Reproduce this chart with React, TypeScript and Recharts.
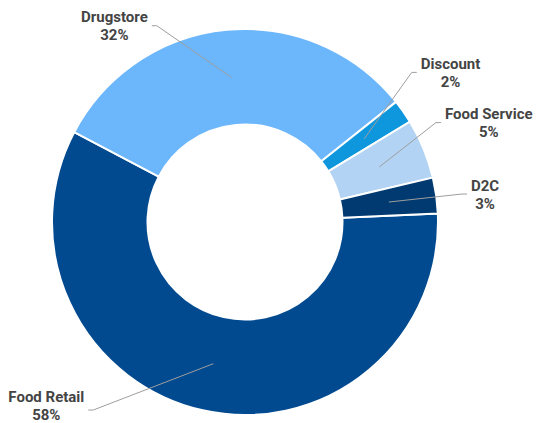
import React from "react";
import { PieChart, Pie, Cell } from "recharts";

const categories = ["Food Retail", "Drugstore", "Discount", "Food Service", "D2C"];
const shares = [58.4, 31.6, 2, 5, 3];
const colors = ["#014a90", "#6cb6fb", "#0e97dd", "#b2d3f4", "#013a70"];

// label elbow placement (angle in degrees, radius in px from pie centre), side, and vertical nudge
const labelLayout: Record<string, { angle: number; radius: number; side: "left" | "right"; dy: number }> = {
  "Food Retail": { angle: 231.1, radius: 241.6, side: "left", dy: -5 },
  Drugstore: { angle: 114.2, radius: 215.2, side: "left", dy: 0 },
  Discount: { angle: 41.9, radius: 224, side: "right", dy: 0 },
  "Food Service": { angle: 27.5, radius: 215.3, side: "right", dy: 0 },
  D2C: { angle: 7.35, radius: 218.8, side: "right", dy: 0 },
};

const data = categories.map((name, i) => ({ name, value: shares[i] }));

const FONT = "bold 15px Roboto";
let measureCtx: CanvasRenderingContext2D | null = null;
function textWidth(s: string): number {
  if (!measureCtx) {
    const c = document.createElement("canvas");
    measureCtx = c.getContext("2d");
  }
  if (!measureCtx) return s.length * 7.5;
  measureCtx.font = FONT;
  return measureCtx.measureText(s).width;
}

const RAD = Math.PI / 180;
function polar(cx: number, cy: number, r: number, a: number) {
  return { x: cx + r * Math.cos(-a * RAD), y: cy + r * Math.sin(-a * RAD) };
}

function renderLabel(props: any) {
  const { cx, cy, midAngle, innerRadius, outerRadius, name, value } = props;
  const lay = labelLayout[name];
  if (!lay) return null;
  const midR = (innerRadius + outerRadius) / 2;
  const p0 = polar(cx, cy, midR, midAngle);
  const elbow = polar(cx, cy, lay.radius, lay.angle);
  const dir = lay.side === "left" ? -1 : 1;
  const p2 = { x: elbow.x + dir * 5, y: elbow.y };
  const pctText = `${Math.round(value)}%`;
  const w = Math.max(textWidth(name), textWidth(pctText));
  const tx = p2.x + dir * (4 + w / 2);
  const baseY = elbow.y - 3.5 + lay.dy;
  return (
    <g key={`lbl-${name}`}>
      <polyline
        points={`${p0.x},${p0.y} ${elbow.x},${elbow.y} ${p2.x},${p2.y}`}
        fill="none"
        stroke="#9e9e9e"
        strokeWidth={1}
      />
      <text
        x={tx}
        y={baseY}
        textAnchor="middle"
        fill="#444444"
        style={{ font: FONT, fontFamily: "Roboto", fontWeight: 700, fontSize: 15 }}
      >
        {name}
      </text>
      <text
        x={tx}
        y={baseY + 18}
        textAnchor="middle"
        fill="#444444"
        style={{ font: FONT, fontFamily: "Roboto", fontWeight: 700, fontSize: 15 }}
      >
        {pctText}
      </text>
    </g>
  );
}

export default function App() {
  return (
    <div style={{ position: "fixed", left: 0, top: 0, width: 537, height: 423, background: "#fff" }}>
      <PieChart width={537} height={423} margin={{ top: 0, right: 0, bottom: 0, left: 0 }}>
        <Pie
          data={data}
          dataKey="value"
          nameKey="name"
          cx={245}
          cy={222}
          innerRadius={97.5}
          outerRadius={193}
          startAngle={2.5}
          endAngle={-357.5}
          stroke="#ffffff"
          strokeWidth={2}
          label={renderLabel}
          labelLine={false}
          isAnimationActive={false}
        >
          {data.map((d, i) => (
            <Cell key={d.name} fill={colors[i]} />
          ))}
        </Pie>
      </PieChart>
    </div>
  );
}
